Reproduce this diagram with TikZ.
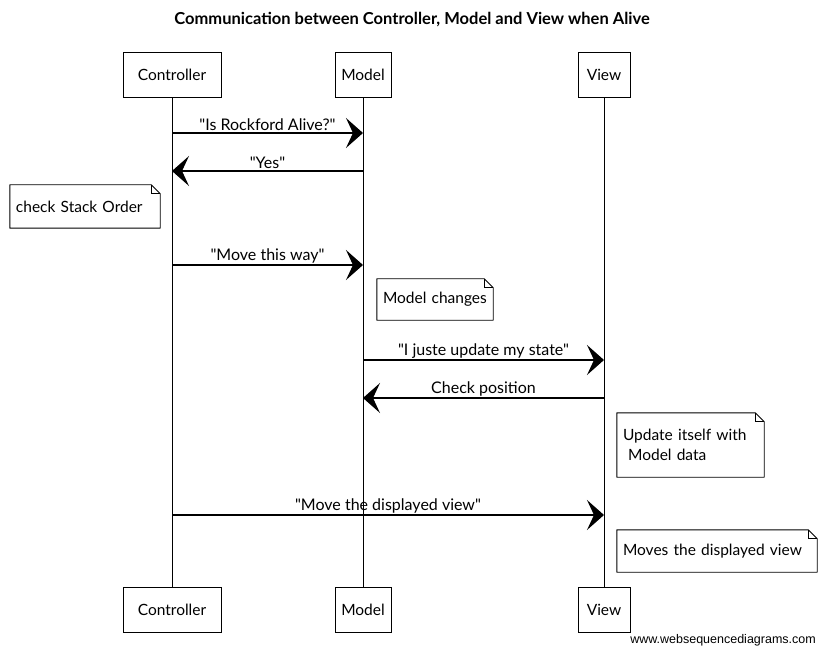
\documentclass[tikz,border=0pt]{standalone}
\usepackage{fontspec}
\setmainfont{Lato}[Ligatures=TeXOff]
\newfontfamily\markfont{Liberation Sans}
\usetikzlibrary{arrows.meta}

% dog-eared note outline around an (undrawn) node
\newcommand\dognote[1]{%
  \draw[line width=0.9pt, line join=round]
    (#1.south west) -- (#1.north west) -- ([xshift=-9pt]#1.north east)
    -- ([yshift=-9pt]#1.north east) -- (#1.south east) -- cycle;
  \draw[line width=0.7pt]
    ([xshift=-9pt]#1.north east) -- ([xshift=-9pt,yshift=-9pt]#1.north east)
    -- ([yshift=-9pt]#1.north east);
}

\begin{document}
\begin{tikzpicture}[x=1pt, y=-1pt,
  actor/.style={draw, line width=0.9pt, minimum height=45pt, inner sep=0pt,
    font=\fontsize{15.5}{18}\selectfont},
  life/.style={line width=0.8pt},
  msg/.style={line width=1.1pt, -{Stealth[length=17pt, width=30pt, inset=7pt]}},
  lbl/.style={font=\fontsize{16}{18}\selectfont, inner sep=1.5pt},
  notetext/.style={inner xsep=6pt, inner ysep=0pt, align=left,
    font=\fontsize{15.5}{20}\selectfont},
]
\useasboundingbox (0,0) rectangle (825,655);

% title
\node[font=\bfseries\fontsize{16.5}{19}\selectfont] (title) at (412,20)
  {Communication between Controller, Model and View when Alive};

% participants, top and bottom
\node[actor, minimum width=98pt] (ctop) at (172,74.5) {Controller};
\node[actor, minimum width=56pt] (mtop) at (363,74.5) {Model};
\node[actor, minimum width=52pt] (vtop) at (604,74.5) {View};
\node[actor, minimum width=98pt] (cbot) at (172,610) {Controller};
\node[actor, minimum width=56pt] (mbot) at (363,610) {Model};
\node[actor, minimum width=52pt] (vbot) at (604,610) {View};

% lifelines
\draw[life] (ctop.south) -- (cbot.north);
\draw[life] (mtop.south) -- (mbot.north);
\draw[life] (vtop.south) -- (vbot.north);

% message end points on the lifelines
\coordinate (c1) at (172,133); \coordinate (m1) at (363,133);
\coordinate (c2) at (172,171); \coordinate (m2) at (363,171);
\coordinate (c3) at (172,265); \coordinate (m3) at (363,265);
\coordinate (m4) at (363,360); \coordinate (v4) at (604,360);
\coordinate (m5) at (363,398); \coordinate (v5) at (604,398);
\coordinate (c6) at (172,515); \coordinate (v6) at (604,515);

% messages
\draw[msg] (c1) -- (m1) node[lbl, midway, above] {"Is Rockford Alive?"};
\draw[msg] (m2) -- (c2) node[lbl, midway, above] {"Yes"};
\draw[msg] (c3) -- (m3) node[lbl, midway, above] {"Move this way"};
\draw[msg] (m4) -- (v4) node[lbl, midway, above] {"I juste update my state"};
\draw[msg] (v5) -- (m5) node[lbl, midway, above] {Check position};
\draw[msg] (c6) -- (v6) node[lbl, midway, above] {"Move the displayed view"};

% notes
\node[notetext, text width=138pt, minimum height=43pt] (n1) at (85,206.5)
  {check Stack Order};
\dognote{n1}
\node[notetext, text width=104pt, minimum height=41pt] (n2) at (435,299.5)
  {Model changes};
\dognote{n2}
\node[notetext, text width=135pt, minimum height=64pt] (n3) at (690.5,445)
  {Update itself with\\\ Model data};
\dognote{n3}
\node[notetext, text width=188pt, minimum height=42pt] (n4) at (717,551)
  {Moves the displayed view};
\dognote{n4}

% credit line
\node[anchor=east, inner sep=0pt, font=\markfont\fontsize{12.5}{14}\selectfont]
  (credit) at (816,640) {www.websequencediagrams.com};
\end{tikzpicture}
\end{document}
